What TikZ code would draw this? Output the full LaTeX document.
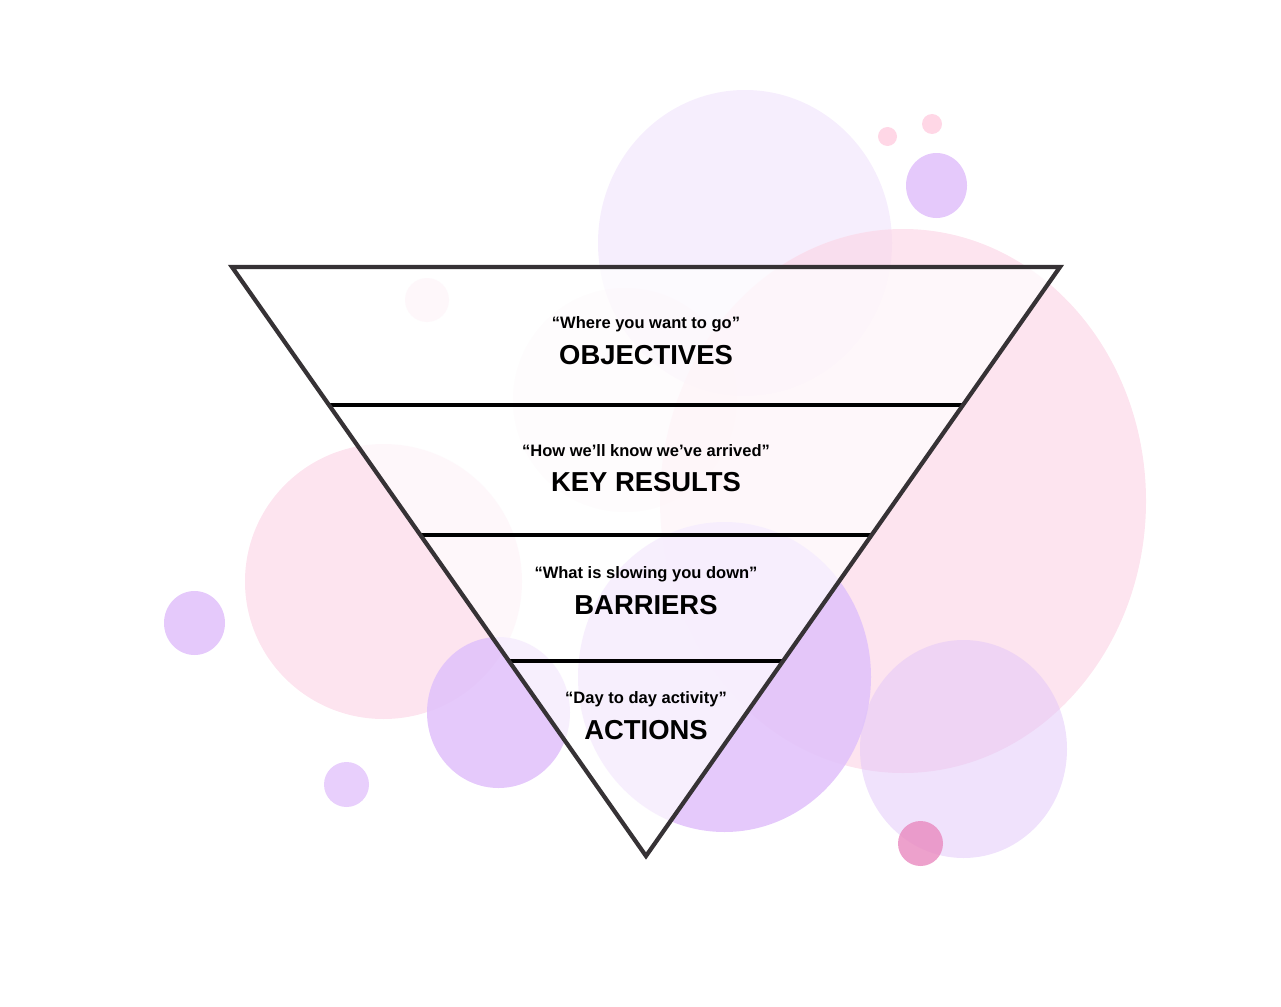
\documentclass[tikz,border=0pt]{standalone}
\usepackage{fontspec}
\setmainfont{Liberation Sans}
\usepackage{tikz}
\usetikzlibrary{positioning, calc}

\definecolor{blushpink}{HTML}{FCD8E8}
\definecolor{softpink}{HTML}{FFD7E6}
\definecolor{palelav}{HTML}{F4EAFC}
\definecolor{lilac}{HTML}{E2C3FB}
\definecolor{mistlav}{HTML}{E1C5F9}
\definecolor{orchid}{HTML}{E98ABF}
\definecolor{edgegray}{HTML}{363235}

\tikzset{
  blob/.style={fill=#1, draw=none},
  subline/.style={font=\fontsize{9.4}{11}\selectfont\bfseries, inner sep=0pt},
  headline/.style={font=\fontsize{15.6}{18}\selectfont\bfseries, inner sep=0pt},
  divider/.style={draw=black, line width=2.7pt},
}

\begin{document}
\begin{tikzpicture}[x=0.02cm, y=-0.02cm]
        \useasboundingbox (0,0) rectangle (1281,1007);
        % background bubbles
        \fill[blob=palelav, fill opacity=0.8] (745,243) ellipse [x radius=147, y radius=153];
        \fill[blob=blushpink, fill opacity=0.7] (903,501) ellipse [x radius=243, y radius=272];
        \fill[blob=blushpink, fill opacity=0.7] (383.5,581.5) ellipse [x radius=138.5, y radius=137.5];
        \fill[blob=blushpink, fill opacity=0.3] (625,400) circle (112);
        \fill[blob=blushpink, fill opacity=0.7] (427,300) circle (22);
        \fill[blob=lilac, fill opacity=0.9] (498.5,712.5) ellipse [x radius=71.5, y radius=75.5];
        \fill[blob=lilac, fill opacity=0.9] (724.5,677) ellipse [x radius=146.5, y radius=155];
        \fill[blob=mistlav, fill opacity=0.5] (963.5,749) ellipse [x radius=103.5, y radius=109];
        \fill[blob=orchid, fill opacity=0.8] (920.5,843.5) circle (22.5);
        \fill[blob=lilac, fill opacity=0.9] (194.5,623) ellipse [x radius=30.5, y radius=32];
        \fill[blob=lilac, fill opacity=0.8] (346.5,784.5) circle (22.5);
        \fill[blob=lilac, fill opacity=0.9] (936.5,185.5) ellipse [x radius=30.5, y radius=32.5];
        \fill[blob=softpink] (887.5,136.5) circle (9.5);
        \fill[blob=softpink] (932,124) circle (10);

        % funnel
        \coordinate (topleft) at (232,267);
        \coordinate (topright) at (1060,267);
        \coordinate (apex) at (646,856);
        \fill[white, fill opacity=0.72] (topleft) -- (topright) -- (apex) -- cycle;
        \draw[divider] ($(topleft)!0.2343!(apex)$) -- ($(topright)!0.2343!(apex)$);
        \draw[divider] ($(topleft)!0.4550!(apex)$) -- ($(topright)!0.4550!(apex)$);
        \draw[divider] ($(topleft)!0.6689!(apex)$) -- ($(topright)!0.6689!(apex)$);
        \draw[edgegray, line width=2.4pt, line join=miter] (topleft) -- (topright) -- (apex) -- cycle;

        % labels
        \node[headline] (objectives) at (646,355) {OBJECTIVES};
        \node[subline] (objectivesq) at (646,324) {“Where you want to go”};
        \node[headline] (keyresults) at (646,482) {KEY RESULTS};
        \node[subline] (keyresultsq) at (646,451) {“How we’ll know we’ve arrived”};
        \node[headline] (barriers) at (646,605) {BARRIERS};
        \node[subline] (barriersq) at (646,574) {“What is slowing you down”};
        \node[headline] (actions) at (646,730) {ACTIONS};
        \node[subline] (actionsq) at (646,699) {“Day to day activity”};
    \end{tikzpicture}
\end{document}
